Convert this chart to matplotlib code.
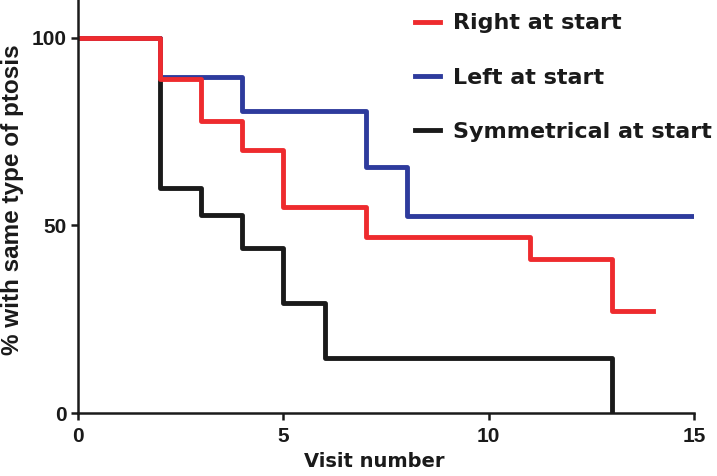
import matplotlib.pyplot as plt

# visit numbers where the curve steps, and the % after each step
right_x = [0, 2, 3, 4, 5, 7, 11, 13, 14]
right_y = [100, 88.9, 77.8, 70.0, 54.8, 46.9, 41.0, 27.3, 27.3]
left_x = [0, 2, 4, 7, 8, 15]
left_y = [100, 89.6, 80.5, 65.5, 52.4, 52.4]
sym_x = [0, 2, 3, 4, 5, 6, 13]
sym_y = [100, 60.0, 52.7, 44.0, 29.4, 14.7, 0]

labels = ['Right at start', 'Left at start', 'Symmetrical at start']
colors = ['#ee2b2e', '#2e3b9d', '#1a1a1a']
ink = '#1a1a1a'

fig = plt.figure(figsize=(7.17, 4.76), dpi=100)
ax = fig.add_axes([0.109, 0.132, 0.859, 0.868])

h_sym, = ax.step(sym_x, sym_y, where='post', color=colors[2], lw=3.5, label=labels[2])
h_left, = ax.step(left_x, left_y, where='post', color=colors[1], lw=3.5, label=labels[1])
h_right, = ax.step(right_x, right_y, where='post', color=colors[0], lw=3.5, label=labels[0])

ax.set_xlim(0, 15)
ax.set_ylim(0, 110)
ax.set_xticks([0, 5, 10, 15])
ax.set_yticks([0, 50, 100])
for s in ['top', 'right']:
    ax.spines[s].set_visible(False)
for s in ['left', 'bottom']:
    ax.spines[s].set_linewidth(1.8)
    ax.spines[s].set_color(ink)
ax.tick_params(width=1.8, length=5, labelsize=15, colors=ink)
ax.tick_params(axis='x', pad=5)
for t in ax.get_xticklabels() + ax.get_yticklabels():
    t.set_fontweight('bold')
    t.set_family('Liberation Sans')

ax.set_xlabel('Visit number', fontsize=14, fontweight='bold', color=ink)
ax.xaxis.set_label_coords(0.481, -0.095)
ax.set_ylabel('% with same type of ptosis', fontsize=17.5, fontweight='bold', color=ink,
              family='Liberation Sans')
ax.yaxis.set_label_coords(-0.088, 0.516)

leg = fig.legend(handles=[h_right, h_left, h_sym], loc='upper left',
                 bbox_to_anchor=(0.579, 0.972), bbox_transform=fig.transFigure,
                 frameon=False, handlelength=1.1, handletextpad=0.6,
                 borderpad=0, borderaxespad=0, labelspacing=1.55,
                 prop={'weight': 'bold', 'size': 16})
for t in leg.get_texts():
    t.set_color(ink)

fig.savefig('out.png')
